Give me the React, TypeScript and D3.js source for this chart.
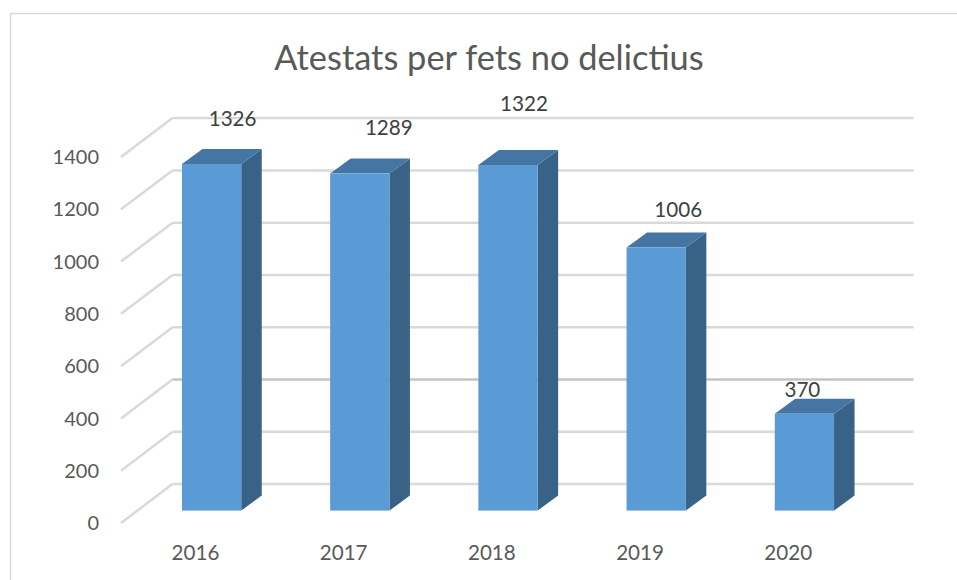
import React from "react";
import * as d3 from "d3";

const years = ["2016", "2017", "2018", "2019", "2020"];
const values = [1326, 1289, 1322, 1006, 370];
const ticks = [0, 200, 400, 600, 800, 1000, 1200, 1400];
const title = "Atestats per fets no delictius";
// hand-placed label offsets (dx from bar centre, dy from bar top), as in the source
const labelDx = [21, 29, 16, 22, -2];
const labelDy = [-38, -39, -54, -31, -17];

const W = 957, H = 580;
const FONT = "Lato, Carlito, sans-serif";
const depthX = 20.5, depthY = 15;
const y = d3.scaleLinear().domain([0, 1400]).range([510.6, 144.6]);
const x = d3.scaleBand<string>().domain(years).range([137.5, 878.5]).paddingInner(0.6).paddingOuter(0.3);

export default function App() {
  const bw = x.bandwidth();
  const poly = d3.line();
  return (
    <svg width={W} height={H} style={{ position: "absolute", left: 0, top: 0, background: "#fff" }} fontFamily={FONT}>
      <path d={`M10.5,${H}V13.5H${W}`} fill="none" stroke="#d9d9d9" strokeWidth={1.5} />
      <text x={489} y={70} textAnchor="middle" fontSize={34.4} fill="#595959">{title}</text>
      {ticks.map((t) => {
        const yb = y(t) - 26.5;
        return (
          <g key={t}>
            <path d={`M121,${y(t) + 12.4}L172.5,${yb}`} fill="none" stroke="#d9d9d9" strokeWidth={2.5} />
            <path d={`M172.5,${yb}H913.5`} fill="none" stroke={t === 400 ? "#c4c4c4" : "#d9d9d9"} strokeWidth={2.5} />
            <text x={99} y={y(t) + 19.5} textAnchor="end" fontSize={20} fill="#595959">{t}</text>
          </g>
        );
      })}
      {years.map((yr, i) => {
        const x0 = x(yr)!, x1 = x0 + bw;
        const top = y(values[i]), base = y(0);
        return (
          <g key={yr}>
            <path d={poly([[x1, top], [x1 + depthX, top - depthY], [x1 + depthX, base - depthY], [x1, base]])! + "Z"} fill="#386387" />
            <path d={poly([[x0, top], [x0 + depthX, top - depthY], [x1 + depthX, top - depthY], [x1, top]])! + "Z"} fill="#4475a3" />
            <rect x={x0} y={top} width={bw} height={base - top} fill="#5b9bd5" />
            <text x={x0 + bw / 2 + labelDx[i]} y={top + labelDy[i]} textAnchor="middle" fontSize={20.6} fill="#404040">{values[i]}</text>
            <text x={x0 + 13.5} y={560} textAnchor="middle" fontSize={20.6} fill="#595959">{yr}</text>
          </g>
        );
      })}
    </svg>
  );
}
